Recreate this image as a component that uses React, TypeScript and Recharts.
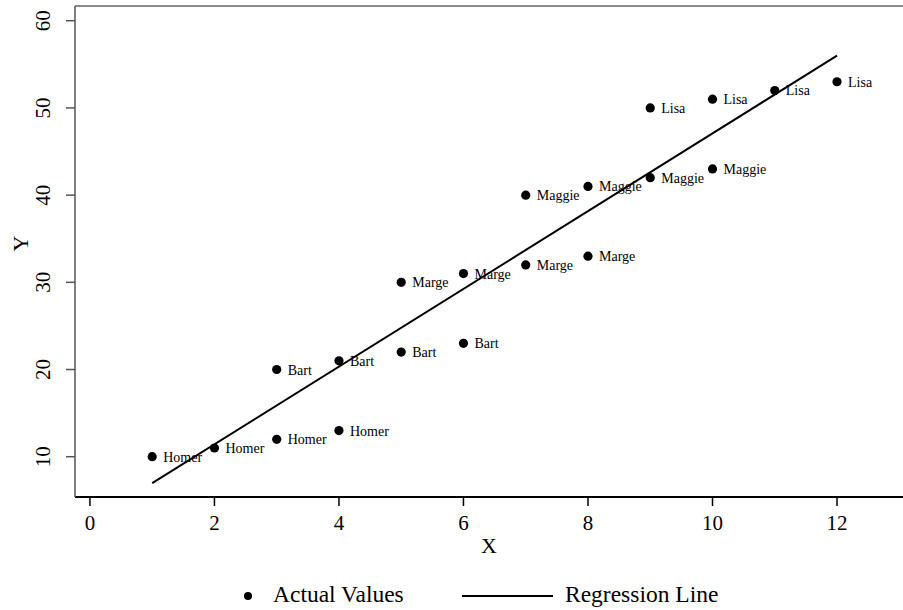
import { ScatterChart, Scatter, XAxis, YAxis, ReferenceLine } from "recharts";

const homer = [
  { x: 1, y: 10 }, { x: 2, y: 11 }, { x: 3, y: 12 }, { x: 4, y: 13 },
];
const bart = [
  { x: 3, y: 20 }, { x: 4, y: 21 }, { x: 5, y: 22 }, { x: 6, y: 23 },
];
const marge = [
  { x: 5, y: 30 }, { x: 6, y: 31 }, { x: 7, y: 32 }, { x: 8, y: 33 },
];
const maggie = [
  { x: 7, y: 40 }, { x: 8, y: 41 }, { x: 9, y: 42 }, { x: 10, y: 43 },
];
const lisa = [
  { x: 9, y: 50 }, { x: 10, y: 51 }, { x: 11, y: 52 }, { x: 12, y: 53 },
];
const groups = [
  { name: "Homer", points: homer },
  { name: "Bart", points: bart },
  { name: "Marge", points: marge },
  { name: "Maggie", points: maggie },
  { name: "Lisa", points: lisa },
];

// Fitted line end points
const regression = [
  { x: 1, y: 6.97 },
  { x: 12, y: 55.99 },
];

const xTicks = [0, 2, 4, 6, 8, 10, 12];
const yTicks = [10, 20, 30, 40, 50, 60];
const xDomain = [-0.24, 13.06];
const yDomain = [5.38, 61.69];

const SERIF = "'Liberation Serif', 'Times New Roman', serif";

function YTick(props: { x?: number; y?: number; payload?: { value: number } }) {
  const y = Number(props.y);
  return (
    <text
      x={50}
      y={y}
      transform={`rotate(-90, 50, ${y})`}
      textAnchor="middle"
      fontSize={21}
      fontFamily={SERIF}
      fill="#000"
    >
      {props.payload?.value}
    </text>
  );
}

function labelledDot(name: string) {
  return function Dot(props: { cx?: number; cy?: number }) {
    const cx = Number(props.cx);
    const cy = Number(props.cy);
    return (
      <g>
        <circle cx={cx} cy={cy} r={4.6} fill="#000" />
        <text x={cx + 11} y={cy + 5} fontSize={14} fontFamily={SERIF} fill="#000">
          {name}
        </text>
      </g>
    );
  };
}

export default function App() {
  return (
    <div style={{ position: "absolute", left: 0, top: 0, width: 903, height: 610, background: "#fff" }}>
      <ScatterChart width={903} height={610} margin={{ top: 6, right: 0, bottom: 53, left: 0 }}>
        <XAxis
          type="number"
          dataKey="x"
          domain={xDomain}
          ticks={xTicks}
          allowDataOverflow
          height={60}
          tickSize={9}
          tickMargin={9}
          axisLine={{ stroke: "#000", strokeWidth: 2 }}
          tickLine={{ stroke: "#000", strokeWidth: 1.5 }}
          tick={{ fontSize: 21, fontFamily: SERIF, fill: "#000" }}
          label={{ value: "X", position: "insideBottom", offset: 4, fontSize: 22, fontFamily: SERIF, fill: "#000" }}
        />
        <YAxis
          type="number"
          dataKey="y"
          domain={yDomain}
          ticks={yTicks}
          allowDataOverflow
          width={75}
          tickSize={9}
          axisLine={{ stroke: "#555", strokeWidth: 1.5 }}
          tickLine={{ stroke: "#555", strokeWidth: 1.5 }}
          tick={<YTick />}
          label={{ value: "Y", angle: -90, position: "insideLeft", offset: 20, fontSize: 22, fontFamily: SERIF, fill: "#000" }}
        />
        <ReferenceLine y={yDomain[1]} stroke="#666" strokeWidth={1.5} />
        <Scatter
          data={regression}
          line={{ stroke: "#000", strokeWidth: 2 }}
          shape={() => <g />}
          isAnimationActive={false}
        />
        {groups.map((g) => (
          <Scatter
            key={g.name}
            data={g.points}
            fill="#000"
            shape={labelledDot(g.name)}
            isAnimationActive={false}
          />
        ))}
      </ScatterChart>
      <div
        style={{
          position: "absolute",
          top: 581,
          left: 0,
          width: 903,
          fontFamily: SERIF,
          fontSize: 23.5,
          color: "#000",
        }}
      >
        <span style={{ position: "absolute", left: 244, top: 11, width: 8, height: 8, borderRadius: 4, background: "#000" }} />
        <span style={{ position: "absolute", left: 273, top: 0, whiteSpace: "nowrap" }}>Actual Values</span>
        <span style={{ position: "absolute", left: 462, top: 14, width: 91, height: 2, background: "#000" }} />
        <span style={{ position: "absolute", left: 565, top: 0, whiteSpace: "nowrap" }}>Regression Line</span>
      </div>
    </div>
  );
}
